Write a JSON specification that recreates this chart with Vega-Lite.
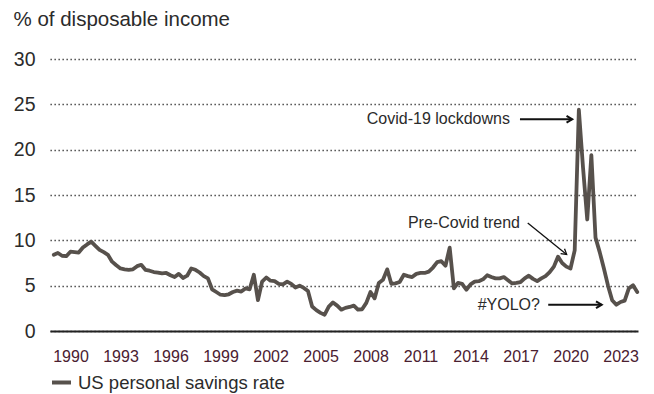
{
  "$schema": "https://vega.github.io/schema/vega-lite/v6.json",
  "width": 588,
  "height": 272,
  "autosize": "none",
  "padding": {"left": 50, "top": 59, "right": 16, "bottom": 63},
  "background": "#ffffff",
  "config": {"view": {"stroke": null}, "font": "Liberation Sans"},
  "datasets": {
    "savings": [
      {"date":"1988-12-31","rate":8.4},{"date":"1989-03-31","rate":8.6},{"date":"1989-06-30","rate":8.3},{"date":"1989-09-30","rate":8.25},
      {"date":"1989-12-31","rate":8.75},{"date":"1990-03-31","rate":8.7},{"date":"1990-06-30","rate":8.65},{"date":"1990-09-30","rate":9.2},
      {"date":"1990-12-31","rate":9.55},{"date":"1991-03-31","rate":9.85},{"date":"1991-06-30","rate":9.4},{"date":"1991-09-30","rate":8.95},
      {"date":"1991-12-31","rate":8.7},{"date":"1992-03-31","rate":8.4},{"date":"1992-06-30","rate":7.65},{"date":"1992-09-30","rate":7.25},
      {"date":"1992-12-31","rate":6.9},{"date":"1993-03-31","rate":6.8},{"date":"1993-06-30","rate":6.75},{"date":"1993-09-30","rate":6.8},
      {"date":"1993-12-31","rate":7.15},{"date":"1994-03-31","rate":7.3},{"date":"1994-06-30","rate":6.75},{"date":"1994-09-30","rate":6.65},
      {"date":"1994-12-31","rate":6.5},{"date":"1995-03-31","rate":6.45},{"date":"1995-06-30","rate":6.35},{"date":"1995-09-30","rate":6.4},
      {"date":"1995-12-31","rate":6.15},{"date":"1996-03-31","rate":5.95},{"date":"1996-06-30","rate":6.3},{"date":"1996-09-30","rate":5.85},
      {"date":"1996-12-31","rate":6.1},{"date":"1997-03-31","rate":6.9},{"date":"1997-06-30","rate":6.75},{"date":"1997-09-30","rate":6.45},
      {"date":"1997-12-31","rate":6.05},{"date":"1998-03-31","rate":5.8},{"date":"1998-06-30","rate":4.6},{"date":"1998-09-30","rate":4.3},
      {"date":"1998-12-31","rate":4.0},{"date":"1999-03-31","rate":3.95},{"date":"1999-06-30","rate":4.05},{"date":"1999-09-30","rate":4.3},
      {"date":"1999-12-31","rate":4.45},{"date":"2000-03-31","rate":4.35},{"date":"2000-06-30","rate":4.7},{"date":"2000-09-30","rate":4.6},
      {"date":"2000-12-31","rate":6.2},{"date":"2001-03-31","rate":3.4},{"date":"2001-06-30","rate":5.45},{"date":"2001-09-30","rate":5.9},
      {"date":"2001-12-31","rate":5.55},{"date":"2002-03-31","rate":5.5},{"date":"2002-06-30","rate":5.2},{"date":"2002-09-30","rate":5.15},
      {"date":"2002-12-31","rate":5.45},{"date":"2003-03-31","rate":5.2},{"date":"2003-06-30","rate":4.8},{"date":"2003-09-30","rate":5.0},
      {"date":"2003-12-31","rate":4.75},{"date":"2004-03-31","rate":4.4},{"date":"2004-06-30","rate":2.7},{"date":"2004-09-30","rate":2.3},
      {"date":"2004-12-31","rate":2.0},{"date":"2005-03-31","rate":1.8},{"date":"2005-06-30","rate":2.7},{"date":"2005-09-30","rate":3.15},
      {"date":"2005-12-31","rate":2.8},{"date":"2006-03-31","rate":2.35},{"date":"2006-06-30","rate":2.55},{"date":"2006-09-30","rate":2.65},
      {"date":"2006-12-31","rate":2.8},{"date":"2007-03-31","rate":2.35},{"date":"2007-06-30","rate":2.4},{"date":"2007-09-30","rate":3.1},
      {"date":"2007-12-31","rate":4.3},{"date":"2008-03-31","rate":3.6},{"date":"2008-06-30","rate":5.3},{"date":"2008-09-30","rate":5.65},
      {"date":"2008-12-31","rate":6.8},{"date":"2009-03-31","rate":5.2},{"date":"2009-06-30","rate":5.25},{"date":"2009-09-30","rate":5.4},
      {"date":"2009-12-31","rate":6.2},{"date":"2010-03-31","rate":6.05},{"date":"2010-06-30","rate":5.95},{"date":"2010-09-30","rate":6.3},
      {"date":"2010-12-31","rate":6.4},{"date":"2011-03-31","rate":6.4},{"date":"2011-06-30","rate":6.55},{"date":"2011-09-30","rate":7.0},
      {"date":"2011-12-31","rate":7.6},{"date":"2012-03-31","rate":7.7},{"date":"2012-06-30","rate":7.2},{"date":"2012-09-30","rate":9.2},
      {"date":"2012-12-31","rate":4.7},{"date":"2013-03-31","rate":5.3},{"date":"2013-06-30","rate":5.2},{"date":"2013-09-30","rate":4.55},
      {"date":"2013-12-31","rate":5.15},{"date":"2014-03-31","rate":5.45},{"date":"2014-06-30","rate":5.5},{"date":"2014-09-30","rate":5.7},
      {"date":"2014-12-31","rate":6.15},{"date":"2015-03-31","rate":5.95},{"date":"2015-06-30","rate":5.8},{"date":"2015-09-30","rate":5.8},
      {"date":"2015-12-31","rate":5.95},{"date":"2016-03-31","rate":5.6},{"date":"2016-06-30","rate":5.25},{"date":"2016-09-30","rate":5.3},
      {"date":"2016-12-31","rate":5.4},{"date":"2017-03-31","rate":5.8},{"date":"2017-06-30","rate":6.1},{"date":"2017-09-30","rate":5.75},
      {"date":"2017-12-31","rate":5.5},{"date":"2018-03-31","rate":5.8},{"date":"2018-06-30","rate":6.05},{"date":"2018-09-30","rate":6.5},
      {"date":"2018-12-31","rate":7.1},{"date":"2019-03-31","rate":8.2},{"date":"2019-06-30","rate":7.5},{"date":"2019-09-30","rate":7.1},
      {"date":"2019-12-31","rate":6.9},{"date":"2020-03-31","rate":8.9},{"date":"2020-06-30","rate":24.4},{"date":"2020-09-30","rate":18.0},
      {"date":"2020-12-31","rate":12.3},{"date":"2021-03-31","rate":19.4},{"date":"2021-06-30","rate":10.3},{"date":"2021-09-30","rate":8.7},
      {"date":"2021-12-31","rate":6.9},{"date":"2022-03-31","rate":5.0},{"date":"2022-06-30","rate":3.4},{"date":"2022-09-30","rate":2.9},
      {"date":"2022-12-31","rate":3.2},{"date":"2023-03-31","rate":3.35},{"date":"2023-06-30","rate":4.7},{"date":"2023-09-30","rate":5.05},
      {"date":"2023-12-31","rate":4.3}
    ],
    "notes": [
      {"label":"Covid-19 lockdowns","date":"2016-05-13","value":23.35},
      {"label":"Pre-Covid trend","date":"2016-12-18","value":11.9},
      {"label":"#YOLO?","date":"2018-03-01","value":2.9}
    ],
    "flatArrows": [
      {"from":"2016-12-18","to":"2020-02-06","value":23.35},
      {"from":"2018-08-29","to":"2021-11-13","value":2.9}
    ],
    "slantArrows": [
      {"from":"2017-06-06","to":"2019-10-07","from_value":11.9,"to_value":8.45}
    ]
  },
  "layer": [
    {
      "data": {"name": "savings"},
      "mark": {"type": "line", "strokeWidth": 3.8, "strokeJoin": "round", "strokeCap": "round"},
      "encoding": {
        "x": {
          "field": "date", "type": "temporal",
          "scale": {"type": "utc", "domain": [{"year": 1988, "month": 10, "date": 9, "utc": true}, {"year": 2024, "month": 1, "date": 17, "utc": true}]},
          "axis": {
            "values": [
              {"year":1990,"utc":true},{"year":1993,"utc":true},{"year":1996,"utc":true},{"year":1999,"utc":true},
              {"year":2002,"utc":true},{"year":2005,"utc":true},{"year":2008,"utc":true},{"year":2011,"utc":true},
              {"year":2014,"utc":true},{"year":2017,"utc":true},{"year":2020,"utc":true},{"year":2023,"utc":true}
            ],
            "format": "%Y", "title": null, "ticks": false, "grid": false,
            "domain": true, "domainColor": "#222222", "domainWidth": 2,
            "labelFont": "Liberation Sans", "labelFontSize": 16, "labelColor": "#4a2030",
            "labelPadding": 17, "labelFlush": false, "labelOverlap": false
          }
        },
        "y": {
          "field": "rate", "type": "quantitative",
          "scale": {"domain": [0, 30]},
          "axis": {
            "values": [0, 5, 10, 15, 20, 25, 30],
            "title": "% of disposable income",
            "titleAngle": 0, "titleAlign": "left", "titleBaseline": "alphabetic",
            "titleX": -37, "titleY": -34, "titleFontSize": 20.5, "titleFontWeight": "normal",
            "titleColor": "#2b2b2b", "titleFont": "Liberation Sans",
            "labelFont": "Liberation Sans", "labelFontSize": 19.5, "labelColor": "#2b2b2b", "labelPadding": 15,
            "ticks": false, "domain": false,
            "grid": true, "gridDash": [1.3, 2.7], "gridColor": "#333333", "gridWidth": 1.4
          }
        },
        "color": {
          "datum": "US personal savings rate",
          "scale": {"range": ["#57514c"]},
          "legend": {
            "orient": "none", "legendX": 0, "legendY": 312, "title": null,
            "symbolType": "stroke", "symbolStrokeWidth": 4, "symbolSize": 361,
            "labelFont": "Liberation Sans", "labelFontSize": 18.5, "labelColor": "#2b2b2b", "labelOffset": 5, "labelLimit": 0
          }
        }
      }
    },
    {
      "data": {"name": "notes"},
      "mark": {"type": "text", "align": "right", "baseline": "middle", "fontSize": 16, "color": "#2b2b2b", "font": "Liberation Sans"},
      "encoding": {
        "x": {"field": "date", "type": "temporal"},
        "y": {"field": "value", "type": "quantitative"},
        "text": {"field": "label"}
      }
    },
    {
      "data": {"name": "flatArrows"},
      "mark": {"type": "rule", "strokeWidth": 2, "color": "#111111"},
      "encoding": {
        "x": {"field": "from", "type": "temporal"},
        "x2": {"field": "to"},
        "y": {"field": "value", "type": "quantitative"}
      }
    },
    {
      "data": {"name": "flatArrows"},
      "mark": {"type": "point", "shape": "M-1,-0.6L0,0L-1,0.6", "filled": false, "size": 130, "strokeWidth": 2, "color": "#111111", "opacity": 1},
      "encoding": {
        "x": {"field": "to", "type": "temporal"},
        "y": {"field": "value", "type": "quantitative"}
      }
    },
    {
      "data": {"name": "slantArrows"},
      "mark": {"type": "rule", "strokeWidth": 1.3, "color": "#111111"},
      "encoding": {
        "x": {"field": "from", "type": "temporal"},
        "x2": {"field": "to"},
        "y": {"field": "from_value", "type": "quantitative"},
        "y2": {"field": "to_value"}
      }
    },
    {
      "data": {"name": "slantArrows"},
      "mark": {"type": "point", "shape": "M-1,-0.6L0,0L-1,0.6", "filled": false, "size": 110, "strokeWidth": 1.3, "color": "#111111", "opacity": 1, "angle": 38.7},
      "encoding": {
        "x": {"field": "to", "type": "temporal"},
        "y": {"field": "to_value", "type": "quantitative"}
      }
    }
  ]
}
